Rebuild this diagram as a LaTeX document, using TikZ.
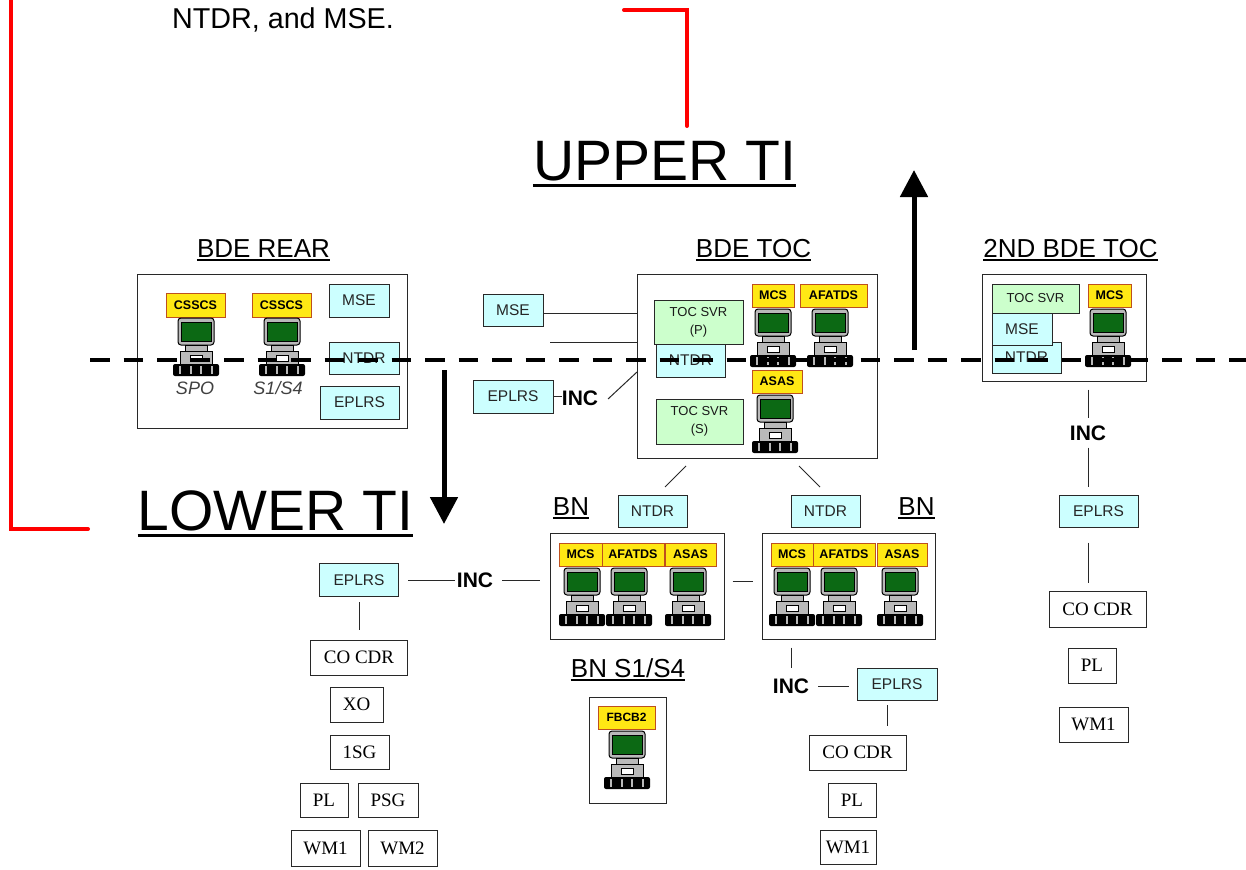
\documentclass[tikz,border=0pt]{standalone}
\usepackage{fontspec}
\setmainfont{Liberation Sans}
\newfontfamily\officerfont{Liberation Serif}
\usetikzlibrary{arrows.meta}
\definecolor{RadioCyan}{RGB}{204,255,255}
\definecolor{SvrGreen}{RGB}{204,255,204}
\definecolor{TagYellow}{RGB}{255,232,20}
\definecolor{TagEdge}{RGB}{190,80,30}
\definecolor{ScreenGreen}{RGB}{12,105,20}
\definecolor{CaseGray}{RGB}{185,185,185}
\definecolor{LineDark}{RGB}{40,40,40}
\tikzset{
	frame/.style={draw=LineDark, line width=1pt, fill=white, inner sep=0pt},
	radio/.style={draw=LineDark, line width=1pt, fill=RadioCyan, inner sep=0pt, text=black!85, font=\fontsize{15.5}{16}\selectfont},
	svr/.style={draw=LineDark, line width=1pt, fill=SvrGreen, inner sep=0pt, align=center, text=black!90, font=\fontsize{13}{18}\selectfont},
	tag/.style={draw=TagEdge, line width=1pt, fill=TagYellow, inner sep=0pt, font=\bfseries\fontsize{12.5}{13}\selectfont},
	officer/.style={draw=LineDark, line width=1pt, fill=white, inner sep=0pt, font=\officerfont\fontsize{19}{20}\selectfont},
	head/.style={inner xsep=0pt, inner ysep=3pt, text depth=0pt, font=\fontsize{26}{27}\selectfont,
		append after command={(\tikzlastnode.south west) edge[line width=2pt] (\tikzlastnode.south east)}},
	tihead/.style={inner xsep=0pt, inner ysep=5pt, text depth=0pt, font=\fontsize{57}{58}\selectfont,
		append after command={(\tikzlastnode.south west) edge[line width=3pt] (\tikzlastnode.south east)}},
	inc/.style={inner sep=0pt, font=\bfseries\fontsize{21}{22}\selectfont},
	who/.style={inner sep=0pt, text=black!75, font=\itshape\fontsize{18}{19}\selectfont},
	lnk/.style={draw=LineDark, line width=1pt},
	ti/.style={line width=5pt, -{Triangle[length=27pt,width=27pt]}},
	redline/.style={draw=red, line width=4pt, line cap=round},
	netline/.style={line width=4pt, dash pattern=on 19.5pt off 14pt},
	pc/.pic={
		\draw[fill=CaseGray, line width=1pt, rounded corners=3pt] (-18,0) rectangle (18,27);
		\draw[fill=ScreenGreen, line width=.8pt] (-15,4) rectangle (15,23);
		\draw[fill=CaseGray, line width=.8pt] (-11,27) rectangle (11,33);
		\draw[fill=CaseGray, line width=1pt] (-16,33) rectangle (16,47);
		\draw[fill=white, line width=.8pt] (-6,37) rectangle (6,43);
		\fill[black, rounded corners=2pt] (-23,46) rectangle (23,58);
		\foreach \slit in {-16,-5,5,16}
			\fill[CaseGray] (\slit-1,48) rectangle (\slit+1,56);
	}
}
\begin{document}
\begin{tikzpicture}[x=1pt, y=-1pt]
	\useasboundingbox (0,0) rectangle (1246,869);
	% red bracket lines
	\coordinate (redtop) at (11,0);
	\coordinate (redcorner) at (11,529);
	\coordinate (redend) at (88,529);
	\coordinate (redstart) at (624,10);
	\coordinate (redknee) at (687,10);
	\coordinate (redfoot) at (687,126);
	\draw[redline] (redtop) -- (redcorner) -- (redend);
	\draw[redline] (redstart) -- (redknee) -- (redfoot);
	\node[anchor=base west, inner sep=0pt, font=\fontsize{28.7}{30}\selectfont] (note) at (172,29) {NTDR, and MSE.};

	\node[tihead, anchor=base] (upper) at (664.5,180) {UPPER TI};
	\node[tihead, anchor=base] (lower) at (275.5,530) {LOWER TI};

	% BDE rear
	\node[head, anchor=base] (rearhead) at (263.5,257) {BDE REAR};
	\node[frame, minimum width=270pt, minimum height=154pt] (rear) at (272,351) {};
	\node[radio, minimum width=60pt, minimum height=33pt] (rearmse) at (359,300.5) {MSE};
	\node[radio, minimum width=70pt, minimum height=32pt] (rearntdr) at (364,358) {NTDR};
	\node[radio, minimum width=79pt, minimum height=33pt] (reareplrs) at (359.5,402.5) {EPLRS};
	\node[tag, minimum width=59pt, minimum height=24pt] (csscsa) at (195.5,305) {CSSCS};
	\node[tag, minimum width=59pt, minimum height=24pt] (csscsb) at (281.5,305) {CSSCS};
	\pic at (196,318) {pc};
	\pic at (282,318) {pc};
	\node[who] (spo) at (195,388) {SPO};
	\node[who] (sfour) at (278,388) {S1/S4};

	% BDE TOC
	\node[head, anchor=base] (tochead) at (753.5,257) {BDE TOC};
	\node[frame, minimum width=240pt, minimum height=184pt] (toc) at (757,366) {};
	\node[radio, minimum width=69pt, minimum height=33pt] (tocntdr) at (690.5,360.5) {NTDR};
	\node[svr, minimum width=89pt, minimum height=44pt] (svrp) at (698.5,322) {TOC SVR\\(P)};
	\node[svr, minimum width=87pt, minimum height=45pt] (svrs) at (699.5,421.5) {TOC SVR\\(S)};
	\node[tag, minimum width=42pt, minimum height=23pt] (tocmcs) at (773,295.5) {MCS};
	\node[tag, minimum width=67pt, minimum height=23pt] (tocafatds) at (833.5,295.5) {AFATDS};
	\node[tag, minimum width=50pt, minimum height=23pt] (tocasas) at (777,381.5) {ASAS};
	\pic at (773,309) {pc};
	\pic at (830,309) {pc};
	\pic at (775,395) {pc};
	\node[radio, minimum width=60pt, minimum height=32pt] (tocmse) at (513,310) {MSE};
	\node[radio, minimum width=80pt, minimum height=33pt] (toceplrs) at (513,396.5) {EPLRS};
	\node[inc] (tocinc) at (580,398) {INC};
	\coordinate (msefree) at (550,342);
	\coordinate (incfrom) at (608,399);
	\coordinate (incto) at (637,372);
	\draw[lnk] ([yshift=-3pt]tocmse.east) -- ([yshift=-3pt]tocmse.east -| toc.west);
	\draw[lnk] (msefree) -- (msefree -| toc.west);
	\draw[lnk] (toceplrs.east) -- (toceplrs.east -| tocinc.west);
	\draw[lnk] (incfrom) -- (incto);

	% second BDE TOC
	\node[head, anchor=base] (secondhead) at (1070.5,257) {2ND BDE TOC};
	\node[frame, minimum width=164pt, minimum height=107pt] (second) at (1064,327.5) {};
	\node[radio, minimum width=69pt, minimum height=31pt] (secondntdr) at (1026.5,357.5) {NTDR};
	\node[radio, minimum width=60pt, minimum height=32pt] (secondmse) at (1022,329) {MSE};
	\node[svr, minimum width=87pt, minimum height=29pt] (secondsvr) at (1035.5,298.5) {TOC SVR};
	\node[tag, minimum width=43pt, minimum height=23pt] (secondmcs) at (1109.5,295.5) {MCS};
	\pic at (1108,309) {pc};

	% network line goes over the boxes
	\coordinate (netstart) at (90,360);
	\coordinate (netend) at (1246,360);
	\draw[netline] (netstart) -- (netend);

	% arrows to upper and lower TI
	\coordinate (upfoot) at (914,350);
	\coordinate (uptip) at (914,170);
	\coordinate (downfoot) at (444,370);
	\coordinate (downtip) at (444,524);
	\draw[ti] (upfoot) -- (uptip);
	\draw[ti] (downfoot) -- (downtip);

	% BN boxes
	\node[head, anchor=base] (bnheada) at (571,515) {BN};
	\node[head, anchor=base] (bnheadb) at (916.5,515) {BN};
	\node[radio, minimum width=69pt, minimum height=32pt] (ntdra) at (652.5,511) {NTDR};
	\node[radio, minimum width=69pt, minimum height=32pt] (ntdrb) at (825.5,511) {NTDR};
	\node[frame, minimum width=174pt, minimum height=106pt] (bna) at (637,586) {};
	\node[frame, minimum width=173pt, minimum height=106pt] (bnb) at (848.5,586) {};
	\node[tag, minimum width=43pt, minimum height=23pt] (mcsa) at (580.5,554.5) {MCS};
	\node[tag, minimum width=62pt, minimum height=23pt] (afatdsa) at (633,554.5) {AFATDS};
	\node[tag, minimum width=51pt, minimum height=23pt] (asasa) at (690.5,554.5) {ASAS};
	\node[tag, minimum width=42pt, minimum height=23pt] (mcsb) at (792,554.5) {MCS};
	\node[tag, minimum width=62pt, minimum height=23pt] (afatdsb) at (844,554.5) {AFATDS};
	\node[tag, minimum width=50pt, minimum height=23pt] (asasb) at (902,554.5) {ASAS};
	\foreach \pcx in {582,629,688,792,839,900}
		\pic at (\pcx,568) {pc};
	\coordinate (tocl) at (686,466);
	\coordinate (ntdral) at (665,487);
	\coordinate (tocr) at (799,466);
	\coordinate (ntdrbr) at (820,487);
	\draw[lnk] (tocl) -- (ntdral);
	\draw[lnk] (tocr) -- (ntdrbr);
	\draw[lnk, shorten <=8pt, shorten >=9pt] ([yshift=5pt]bna.east) -- ([yshift=5pt]bnb.west);

	% BN S1/S4
	\node[head, anchor=base] (bnshead) at (628,677) {BN S1/S4};
	\node[frame, minimum width=77pt, minimum height=106pt] (bns) at (627.5,750) {};
	\node[tag, minimum width=57pt, minimum height=23pt, font=\bfseries\fontsize{12}{13}\selectfont] (fbcb) at (626.5,717.5) {FBCB2};
	\pic at (627,731) {pc};

	% left company column
	\node[radio, minimum width=79pt, minimum height=33pt] (eplrsl) at (359,580) {EPLRS};
	\node[inc] (incl) at (475,580) {INC};
	\node[officer, minimum width=97pt, minimum height=35pt] (cocdrl) at (359,657.5) {CO CDR};
	\node[officer, minimum width=53pt, minimum height=35pt] (xol) at (356.5,704.5) {XO};
	\node[officer, minimum width=59pt, minimum height=34pt] (sgl) at (359.5,752) {1SG};
	\node[officer, minimum width=48pt, minimum height=34pt] (pll) at (324,800) {PL};
	\node[officer, minimum width=60pt, minimum height=34pt] (psgl) at (388,800) {PSG};
	\node[officer, minimum width=69pt, minimum height=36pt] (wma) at (325.5,848) {WM1};
	\node[officer, minimum width=69pt, minimum height=36pt] (wmb) at (402.5,848) {WM2};
	\draw[lnk, shorten <=9pt, shorten >=2pt] (eplrsl.east) -- (incl.west);
	\draw[lnk, shorten <=9pt, shorten >=10pt] (incl.east) -- (bna.west |- incl.east);
	\draw[lnk, shorten <=5pt, shorten >=10pt] (eplrsl.south) -- (cocdrl.north);

	% middle company column
	\node[inc] (incb) at (791,686) {INC};
	\node[radio, minimum width=80pt, minimum height=32pt] (eplrsb) at (897,684) {EPLRS};
	\node[officer, minimum width=97pt, minimum height=35pt] (cocdrb) at (857.5,752.5) {CO CDR};
	\node[officer, minimum width=48pt, minimum height=34pt] (plb) at (852,800) {PL};
	\node[officer, minimum width=56pt, minimum height=34pt] (wmc) at (848,847) {WM1};
	\coordinate (dropb) at (887,700);
	\draw[lnk, shorten <=8pt, shorten >=10pt] (incb.north |- bnb.south) -- (incb.north);
	\draw[lnk, shorten <=9pt, shorten >=8pt] (incb.east) -- (incb.east -| eplrsb.west);
	\draw[lnk, shorten <=5pt, shorten >=9pt] (dropb) -- (dropb |- cocdrb.north);

	% right company column
	\node[inc] (incr) at (1088,433) {INC};
	\node[radio, minimum width=79pt, minimum height=32pt] (eplrsr) at (1098.5,511) {EPLRS};
	\node[officer, minimum width=97pt, minimum height=36pt] (cocdrr) at (1097.5,609) {CO CDR};
	\node[officer, minimum width=48pt, minimum height=35pt] (plr) at (1092,665.5) {PL};
	\node[officer, minimum width=69pt, minimum height=35pt] (wmr) at (1093.5,724.5) {WM1};
	\draw[lnk, shorten <=8pt, shorten >=7pt] (incr.north |- second.south) -- (incr.north);
	\draw[lnk, shorten <=7pt, shorten >=8pt] (incr.south) -- (incr.south |- eplrsr.north);
	\draw[lnk, shorten <=15pt, shorten >=8pt] (incr |- eplrsr.south) -- (incr |- cocdrr.north);
\end{tikzpicture}
\end{document}
